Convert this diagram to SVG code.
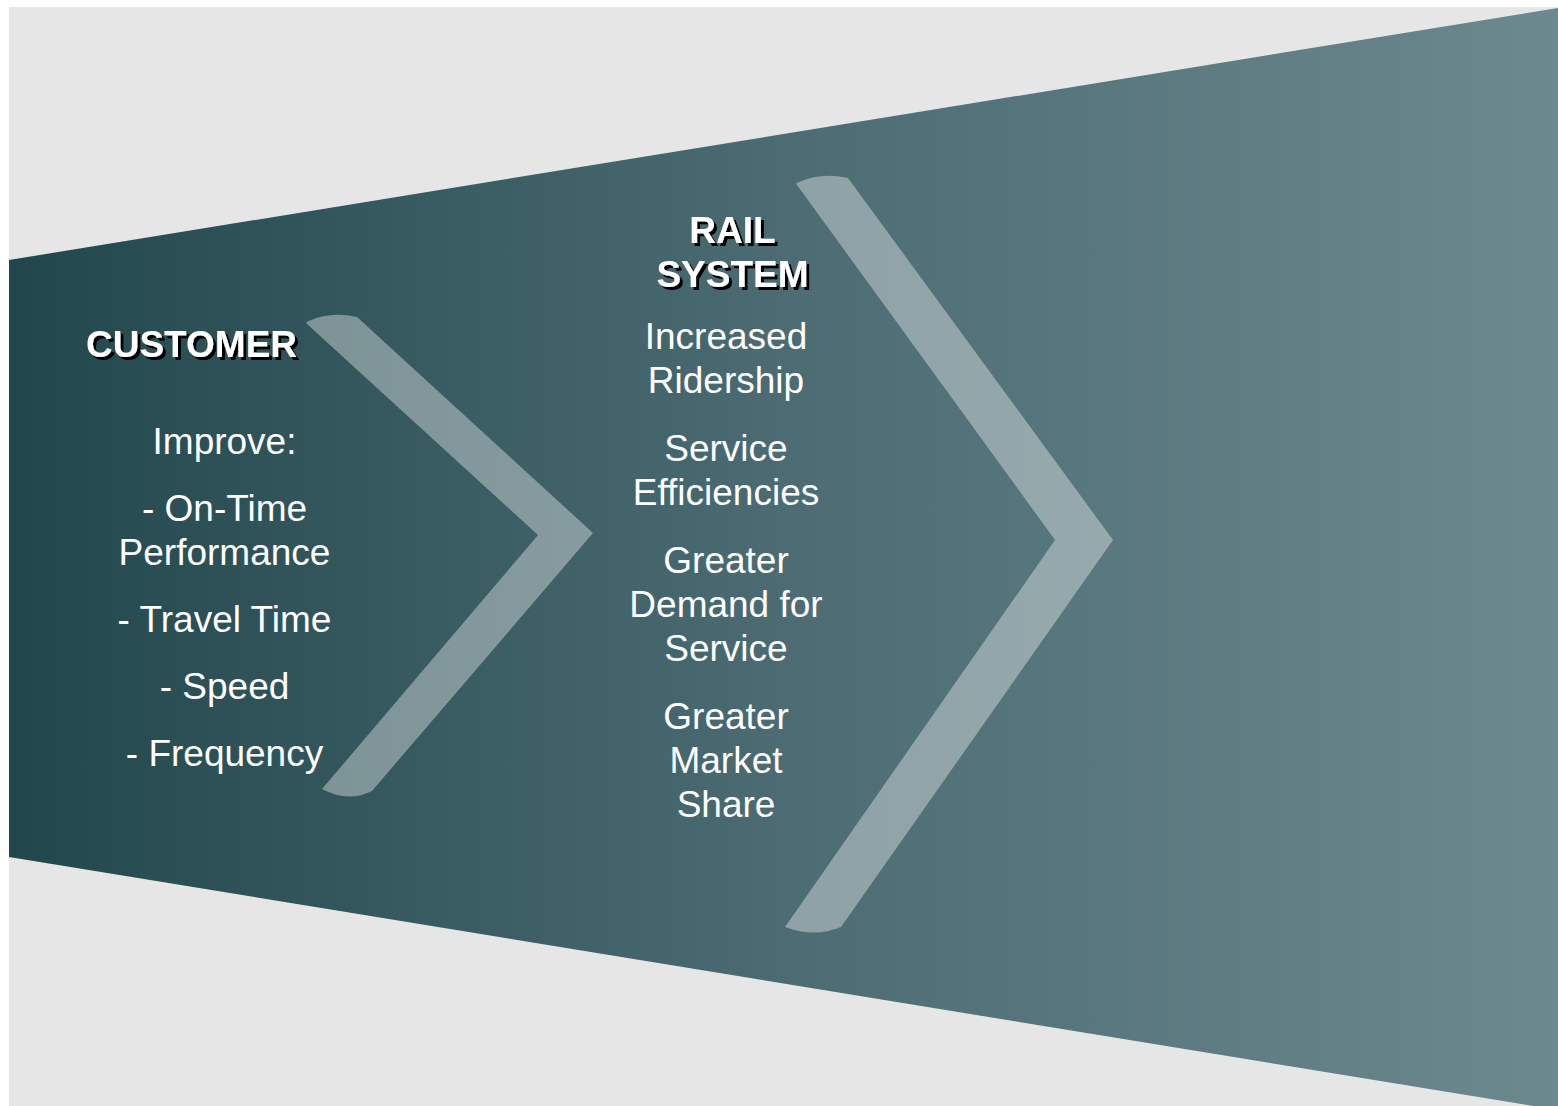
<svg xmlns="http://www.w3.org/2000/svg" width="1558" height="1106" viewBox="0 0 1558 1106">
  <defs>
    <linearGradient id="funnelGrad" gradientUnits="userSpaceOnUse" x1="9" y1="0" x2="1558" y2="0">
      <stop offset="0" stop-color="#21474c"/>
      <stop offset="0.5" stop-color="#4c6b73"/>
      <stop offset="1" stop-color="#6c898e"/>
    </linearGradient>
    <filter id="shadow" x="-10%" y="-20%" width="130%" height="150%">
      <feOffset in="SourceAlpha" dx="2.5" dy="2.5" result="off"/>
      <feFlood flood-color="#000000"/>
      <feComposite in2="off" operator="in" result="sh"/>
      <feMerge>
        <feMergeNode in="sh"/>
        <feMergeNode in="SourceGraphic"/>
      </feMerge>
    </filter>
  </defs>
  <style>
    .chev { fill: #ffffff; fill-opacity: 0.37; }
    .head { font-family: "Liberation Sans", Arial, sans-serif; font-size: 37px; font-weight: bold; fill: #ffffff; }
    .body { font-family: "Liberation Sans", Arial, sans-serif; font-size: 37px; fill: #ffffff; text-anchor: middle; }
  </style>
  <rect x="0" y="0" width="1558" height="1106" fill="#ffffff"/>
  <rect x="9" y="7" width="1549" height="1099" fill="#e6e6e6"/>
  <g id="funnel">
    <polygon points="9,260 1558,8 1558,1110 9,857" fill="url(#funnelGrad)"/>
  </g>
  <g id="connectors">
    <path id="chevron1" class="chev" d="M 309 321 Q 330 311 357 317 L 593 533 L 372 791 Q 348 803 322 789 L 538 535 L 307 324 Q 305 322 309 321 Z"/>
    <path id="chevron2" class="chev" d="M 799 182 Q 822 172 848 178 L 1113 540 L 841 927 Q 814 938 785 927 L 1055 540 L 797 185 Q 795 183 799 182 Z"/>
  </g>
  <g id="customer">
    <text class="head" x="86" y="357" filter="url(#shadow)">CUSTOMER</text>
    <text class="body" x="224.5" y="454">Improve:</text>
    <text class="body" x="224.5" y="521">- On-Time</text>
    <text class="body" x="224.5" y="565">Performance</text>
    <text class="body" x="224.5" y="632">- Travel Time</text>
    <text class="body" x="224.5" y="699">- Speed</text>
    <text class="body" x="224.5" y="766">- Frequency</text>
  </g>
  <g id="rail-system">
    <text class="head" x="732.5" y="243" text-anchor="middle" filter="url(#shadow)">RAIL</text>
    <text class="head" x="732.5" y="287" text-anchor="middle" filter="url(#shadow)">SYSTEM</text>
    <text class="body" x="726" y="349">Increased</text>
    <text class="body" x="726" y="393">Ridership</text>
    <text class="body" x="726" y="461">Service</text>
    <text class="body" x="726" y="505">Efficiencies</text>
    <text class="body" x="726" y="573">Greater</text>
    <text class="body" x="726" y="617">Demand for</text>
    <text class="body" x="726" y="661">Service</text>
    <text class="body" x="726" y="729">Greater</text>
    <text class="body" x="726" y="773">Market</text>
    <text class="body" x="726" y="817">Share</text>
  </g>
</svg>
